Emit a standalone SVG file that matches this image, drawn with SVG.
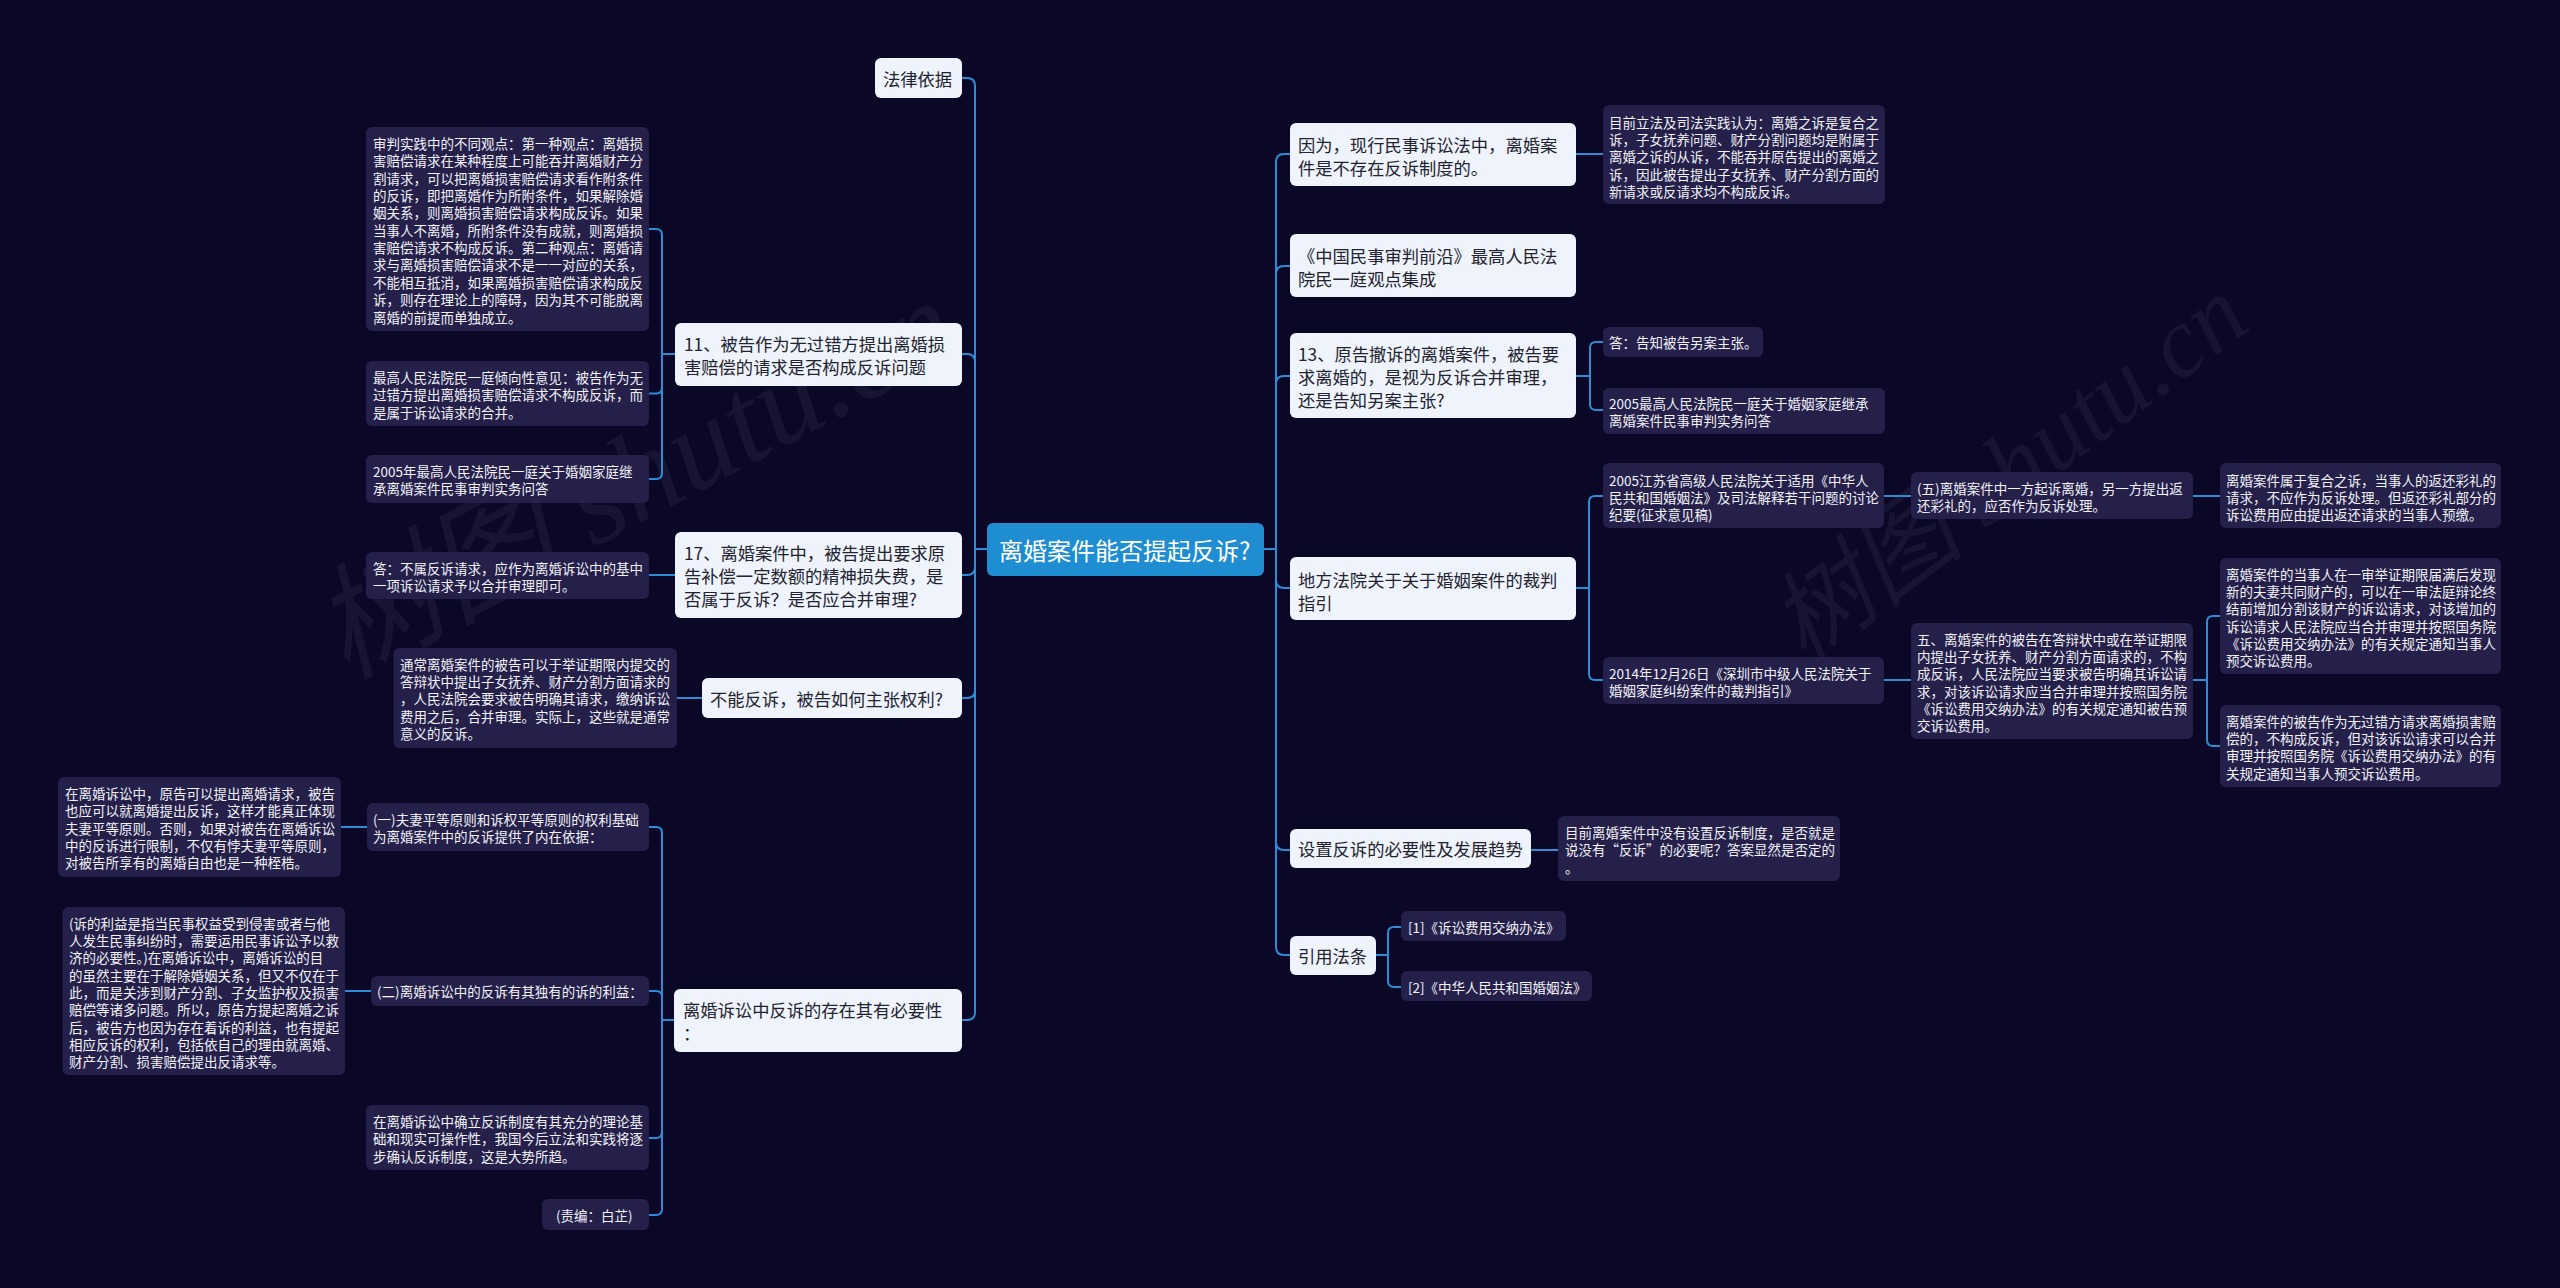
<svg xmlns="http://www.w3.org/2000/svg" width="2560" height="1288" viewBox="0 0 2560 1288">
<style>
.bg{fill:#0b0727}
.n1 rect{fill:#eef3fc}
.n1 text{font-family:"Noto Sans CJK SC","Noto Sans",sans-serif;font-size:17.3px;fill:#23232f;dominant-baseline:central}
.n2 rect{fill:#24204a}
.n2 text{font-family:"Noto Sans CJK SC","Noto Sans",sans-serif;font-size:13.5px;fill:#f2f2f8;dominant-baseline:central}
.root rect{fill:#1f8dd1}
.root text{font-family:"Noto Sans CJK SC","Noto Sans",sans-serif;font-size:24px;fill:#ffffff;dominant-baseline:central}
.links path{fill:none;stroke:#2d8cd6;stroke-width:2}
.wm{font-family:"Liberation Serif","Noto Sans CJK SC",serif;font-style:italic;fill:#ffffff;fill-opacity:0.05}
</style>
<rect class="bg" x="0" y="0" width="2560" height="1288"/>

<g id="watermark">
<text class="wm" font-size="125" transform="translate(345,680) rotate(-28)">树图 shutu.cn</text>
<text class="wm" font-size="100" transform="translate(1805,665) rotate(-37)">树图 shutu.cn</text>
</g>

<g class="links" id="connectors">
<path d="M987 549 H975 V86 Q975 78 967 78 H962"/>
<path d="M987 549 H975 V362 Q975 354 967 354 H962"/>
<path d="M987 549 H975 V567 Q975 575 967 575 H962"/>
<path d="M987 549 H975 V690 Q975 698 967 698 H962"/>
<path d="M987 549 H975 V1012 Q975 1020 967 1020 H962"/>
<path d="M1264 549 H1276 V162 Q1276 154 1284 154 H1290"/>
<path d="M1264 549 H1276 V274 Q1276 266 1284 266 H1290"/>
<path d="M1264 549 H1276 V384 Q1276 376 1284 376 H1290"/>
<path d="M1264 549 H1276 V580 Q1276 588 1284 588 H1290"/>
<path d="M1264 549 H1276 V842 Q1276 850 1284 850 H1290"/>
<path d="M1264 549 H1276 V947 Q1276 955 1284 955 H1290"/>
<path d="M675 354 H662 V235 Q662 229 656 229 H649"/>
<path d="M675 354 H662 V387.5 Q662 393.5 656 393.5 H649"/>
<path d="M675 354 H662 V473 Q662 479 656 479 H649"/>
<path d="M675 575 H649"/>
<path d="M702 698 H677"/>
<path d="M674 1020 H662 V833 Q662 827 656 827 H649"/>
<path d="M674 1020 H662 V997 Q662 991 656 991 H649"/>
<path d="M674 1020 H662 V1132 Q662 1138 656 1138 H649"/>
<path d="M674 1020 H662 V1209 Q662 1215 656 1215 H649"/>
<path d="M367 827 H341"/>
<path d="M371 991 H345"/>
<path d="M1576 154 H1603"/>
<path d="M1576 376 H1590 V348 Q1590 342 1596 342 H1603"/>
<path d="M1576 376 H1590 V404 Q1590 410 1596 410 H1603"/>
<path d="M1576 588 H1589 V502 Q1589 496 1595 496 H1603"/>
<path d="M1576 588 H1589 V674 Q1589 680 1595 680 H1603"/>
<path d="M1531 850 H1558"/>
<path d="M1376 955 H1388 V933 Q1388 927 1394 927 H1401"/>
<path d="M1376 955 H1388 V981 Q1388 987 1394 987 H1401"/>
<path d="M1884 496 H1911"/>
<path d="M1884 680 H1911"/>
<path d="M2193 496 H2220"/>
<path d="M2193 680 H2207 V622 Q2207 616 2213 616 H2220"/>
<path d="M2193 680 H2207 V740 Q2207 746 2213 746 H2220"/>
</g>

<g id="root" class="root">
<rect x="987" y="523" width="277" height="53" rx="6"/>
<text x="999" y="549.5">离婚案件能否提起反诉?</text>
</g>

<!-- LEFT level 1 -->
<g id="n-falv" class="n1"><rect x="875" y="58" width="87" height="40" rx="6"/><text x="883" y="78">法律依据</text></g>
<g id="n-11" class="n1"><rect x="675" y="323" width="287" height="63" rx="6"/><text><tspan x="684" y="343">11、被告作为无过错方提出离婚损</tspan><tspan x="684" y="366">害赔偿的请求是否构成反诉问题</tspan></text></g>
<g id="n-17" class="n1"><rect x="675" y="532" width="287" height="86" rx="6"/><text><tspan x="684" y="552">17、离婚案件中，被告提出要求原</tspan><tspan x="684" y="575">告补偿一定数额的精神损失费，是</tspan><tspan x="684" y="598">否属于反诉？是否应合并审理?</tspan></text></g>
<g id="n-buneng" class="n1"><rect x="702" y="678" width="260" height="40" rx="6"/><text x="710" y="698">不能反诉，被告如何主张权利?</text></g>
<g id="n-biyao" class="n1"><rect x="674" y="989" width="288" height="63" rx="6"/><text><tspan x="683" y="1009">离婚诉讼中反诉的存在其有必要性</tspan><tspan x="683" y="1032">：</tspan></text></g>

<!-- LEFT level 2 -->
<g id="n-shenpan" class="n2"><rect x="366" y="127" width="283" height="204" rx="6"/><text>
<tspan x="373" y="143">审判实践中的不同观点：第一种观点：离婚损</tspan>
<tspan x="373" y="160.35">害赔偿请求在某种程度上可能吞并离婚财产分</tspan>
<tspan x="373" y="177.7">割请求，可以把离婚损害赔偿请求看作附条件</tspan>
<tspan x="373" y="195.05">的反诉，即把离婚作为所附条件，如果解除婚</tspan>
<tspan x="373" y="212.4">姻关系，则离婚损害赔偿请求构成反诉。如果</tspan>
<tspan x="373" y="229.75">当事人不离婚，所附条件没有成就，则离婚损</tspan>
<tspan x="373" y="247.1">害赔偿请求不构成反诉。第二种观点：离婚请</tspan>
<tspan x="373" y="264.45">求与离婚损害赔偿请求不是一一对应的关系，</tspan>
<tspan x="373" y="281.8">不能相互抵消，如果离婚损害赔偿请求构成反</tspan>
<tspan x="373" y="299.15">诉，则存在理论上的障碍，因为其不可能脱离</tspan>
<tspan x="373" y="316.5">离婚的前提而单独成立。</tspan></text></g>
<g id="n-zuigao" class="n2"><rect x="366" y="361" width="283" height="65" rx="6"/><text>
<tspan x="373" y="377">最高人民法院民一庭倾向性意见：被告作为无</tspan>
<tspan x="373" y="394.35">过错方提出离婚损害赔偿请求不构成反诉，而</tspan>
<tspan x="373" y="411.7">是属于诉讼请求的合并。</tspan></text></g>
<g id="n-2005a" class="n2"><rect x="366" y="455" width="283" height="48" rx="6"/><text>
<tspan x="373" y="471">2005年最高人民法院民一庭关于婚姻家庭继</tspan>
<tspan x="373" y="488.35">承离婚案件民事审判实务问答</tspan></text></g>
<g id="n-da1" class="n2"><rect x="366" y="552" width="283" height="47" rx="6"/><text>
<tspan x="373" y="567.5">答：不属反诉请求，应作为离婚诉讼中的基中</tspan>
<tspan x="373" y="584.85">一项诉讼请求予以合并审理即可。</tspan></text></g>
<g id="n-tongchang" class="n2"><rect x="393.5" y="648" width="283.5" height="100" rx="6"/><text>
<tspan x="400" y="663.5">通常离婚案件的被告可以于举证期限内提交的</tspan>
<tspan x="400" y="680.85">答辩状中提出子女抚养、财产分割方面请求的</tspan>
<tspan x="400" y="698.2">，人民法院会要求被告明确其请求，缴纳诉讼</tspan>
<tspan x="400" y="715.55">费用之后，合并审理。实际上，这些就是通常</tspan>
<tspan x="400" y="732.9">意义的反诉。</tspan></text></g>
<g id="n-yi" class="n2"><rect x="367" y="803" width="282" height="48" rx="6"/><text>
<tspan x="373" y="819">(一)夫妻平等原则和诉权平等原则的权利基础</tspan>
<tspan x="373" y="836.35">为离婚案件中的反诉提供了内在依据：</tspan></text></g>
<g id="n-er" class="n2"><rect x="371" y="976" width="278" height="30" rx="6"/><text x="377" y="991">(二)离婚诉讼中的反诉有其独有的诉的利益：</text></g>
<g id="n-queli" class="n2"><rect x="366" y="1105" width="283" height="65" rx="6"/><text>
<tspan x="373" y="1121">在离婚诉讼中确立反诉制度有其充分的理论基</tspan>
<tspan x="373" y="1138.35">础和现实可操作性，我国今后立法和实践将逐</tspan>
<tspan x="373" y="1155.7">步确认反诉制度，这是大势所趋。</tspan></text></g>
<g id="n-zebian" class="n2"><rect x="542" y="1199" width="107" height="31" rx="6"/><text x="556" y="1215">(责编：白芷)</text></g>

<!-- LEFT level 3 -->
<g id="n-yuangao" class="n2"><rect x="58" y="777" width="283" height="100" rx="6"/><text>
<tspan x="65" y="793">在离婚诉讼中，原告可以提出离婚请求，被告</tspan>
<tspan x="65" y="810.35">也应可以就离婚提出反诉，这样才能真正体现</tspan>
<tspan x="65" y="827.7">夫妻平等原则。否则，如果对被告在离婚诉讼</tspan>
<tspan x="65" y="845.05">中的反诉进行限制，不仅有悖夫妻平等原则，</tspan>
<tspan x="65" y="862.4">对被告所享有的离婚自由也是一种桎梏。</tspan></text></g>
<g id="n-liyi" class="n2"><rect x="62.5" y="907" width="282.5" height="168" rx="6"/><text>
<tspan x="69" y="922.5">(诉的利益是指当民事权益受到侵害或者与他</tspan>
<tspan x="69" y="939.85">人发生民事纠纷时，需要运用民事诉讼予以救</tspan>
<tspan x="69" y="957.2">济的必要性。)在离婚诉讼中，离婚诉讼的目</tspan>
<tspan x="69" y="974.55">的虽然主要在于解除婚姻关系，但又不仅在于</tspan>
<tspan x="69" y="991.9">此，而是关涉到财产分割、子女监护权及损害</tspan>
<tspan x="69" y="1009.25">赔偿等诸多问题。所以，原告方提起离婚之诉</tspan>
<tspan x="69" y="1026.6">后，被告方也因为存在着诉的利益，也有提起</tspan>
<tspan x="69" y="1043.95">相应反诉的权利，包括依自己的理由就离婚、</tspan>
<tspan x="69" y="1061.3">财产分割、损害赔偿提出反请求等。</tspan></text></g>

<!-- RIGHT level 1 -->
<g id="n-yinwei" class="n1"><rect x="1290" y="123" width="286" height="63" rx="6"/><text><tspan x="1298" y="143.5">因为，现行民事诉讼法中，离婚案</tspan><tspan x="1298" y="166.5">件是不存在反诉制度的。</tspan></text></g>
<g id="n-qianyan" class="n1"><rect x="1290" y="234" width="286" height="63" rx="6"/><text><tspan x="1298" y="254.5">《中国民事审判前沿》最高人民法</tspan><tspan x="1298" y="277.5">院民一庭观点集成</tspan></text></g>
<g id="n-13" class="n1"><rect x="1290" y="333" width="286" height="85" rx="6"/><text><tspan x="1298" y="353">13、原告撤诉的离婚案件，被告要</tspan><tspan x="1298" y="376">求离婚的，是视为反诉合并审理，</tspan><tspan x="1298" y="399">还是告知另案主张?</tspan></text></g>
<g id="n-difang" class="n1"><rect x="1290" y="557" width="286" height="63" rx="6"/><text><tspan x="1298" y="578.5">地方法院关于关于婚姻案件的裁判</tspan><tspan x="1298" y="601.5">指引</tspan></text></g>
<g id="n-shezhi" class="n1"><rect x="1290" y="829" width="241" height="39" rx="6"/><text x="1298" y="848.5">设置反诉的必要性及发展趋势</text></g>
<g id="n-yinyong" class="n1"><rect x="1290" y="936" width="86" height="39" rx="6"/><text x="1298" y="955.5">引用法条</text></g>

<!-- RIGHT level 2 -->
<g id="n-muqian" class="n2"><rect x="1603" y="105" width="282" height="99" rx="6"/><text>
<tspan x="1609" y="121.5">目前立法及司法实践认为：离婚之诉是复合之</tspan>
<tspan x="1609" y="138.85">诉，子女抚养问题、财产分割问题均是附属于</tspan>
<tspan x="1609" y="156.2">离婚之诉的从诉，不能吞并原告提出的离婚之</tspan>
<tspan x="1609" y="173.55">诉，因此被告提出子女抚养、财产分割方面的</tspan>
<tspan x="1609" y="190.9">新请求或反请求均不构成反诉。</tspan></text></g>
<g id="n-da2" class="n2"><rect x="1603" y="327" width="160" height="30" rx="6"/><text x="1609" y="342">答：告知被告另案主张。</text></g>
<g id="n-2005b" class="n2"><rect x="1603" y="388" width="282" height="46" rx="6"/><text>
<tspan x="1609" y="403">2005最高人民法院民一庭关于婚姻家庭继承</tspan>
<tspan x="1609" y="420.35">离婚案件民事审判实务问答</tspan></text></g>
<g id="n-jiangsu" class="n2"><rect x="1603" y="463" width="281" height="65" rx="6"/><text>
<tspan x="1609" y="479.5">2005江苏省高级人民法院关于适用《中华人</tspan>
<tspan x="1609" y="496.85">民共和国婚姻法》及司法解释若干问题的讨论</tspan>
<tspan x="1609" y="514.2">纪要(征求意见稿)</tspan></text></g>
<g id="n-shenzhen" class="n2"><rect x="1603" y="657" width="281" height="47" rx="6"/><text>
<tspan x="1609" y="673">2014年12月26日《深圳市中级人民法院关于</tspan>
<tspan x="1609" y="690.35">婚姻家庭纠纷案件的裁判指引》</tspan></text></g>
<g id="n-muqian2" class="n2"><rect x="1558" y="816" width="282" height="65" rx="6"/><text>
<tspan x="1565" y="832">目前离婚案件中没有设置反诉制度，是否就是</tspan>
<tspan x="1565" y="849.35">说没有“反诉”的必要呢？答案显然是否定的</tspan>
<tspan x="1565" y="866.7">。</tspan></text></g>
<g id="n-ref1" class="n2"><rect x="1401" y="911" width="165" height="30" rx="6"/><text x="1408" y="926.5">[1]《诉讼费用交纳办法》</text></g>
<g id="n-ref2" class="n2"><rect x="1401" y="971" width="191" height="30" rx="6"/><text x="1408" y="986.5">[2]《中华人民共和国婚姻法》</text></g>

<!-- RIGHT level 3 -->
<g id="n-wu1" class="n2"><rect x="1911" y="472" width="282" height="47" rx="6"/><text>
<tspan x="1917" y="488">(五)离婚案件中一方起诉离婚，另一方提出返</tspan>
<tspan x="1917" y="505.35">还彩礼的，应否作为反诉处理。</tspan></text></g>
<g id="n-wu2" class="n2"><rect x="1911" y="623" width="282" height="116" rx="6"/><text>
<tspan x="1917" y="638.5">五、离婚案件的被告在答辩状中或在举证期限</tspan>
<tspan x="1917" y="655.85">内提出子女抚养、财产分割方面请求的，不构</tspan>
<tspan x="1917" y="673.2">成反诉，人民法院应当要求被告明确其诉讼请</tspan>
<tspan x="1917" y="690.55">求，对该诉讼请求应当合并审理并按照国务院</tspan>
<tspan x="1917" y="707.9">《诉讼费用交纳办法》的有关规定通知被告预</tspan>
<tspan x="1917" y="725.25">交诉讼费用。</tspan></text></g>

<!-- RIGHT level 4 -->
<g id="n-fuhe" class="n2"><rect x="2220" y="463" width="281" height="65" rx="6"/><text>
<tspan x="2226" y="479.5">离婚案件属于复合之诉，当事人的返还彩礼的</tspan>
<tspan x="2226" y="496.85">请求，不应作为反诉处理。但返还彩礼部分的</tspan>
<tspan x="2226" y="514.2">诉讼费用应由提出返还请求的当事人预缴。</tspan></text></g>
<g id="n-caichan" class="n2"><rect x="2220" y="558" width="281" height="116" rx="6"/><text>
<tspan x="2226" y="573.5">离婚案件的当事人在一审举证期限届满后发现</tspan>
<tspan x="2226" y="590.85">新的夫妻共同财产的，可以在一审法庭辩论终</tspan>
<tspan x="2226" y="608.2">结前增加分割该财产的诉讼请求，对该增加的</tspan>
<tspan x="2226" y="625.55">诉讼请求人民法院应当合并审理并按照国务院</tspan>
<tspan x="2226" y="642.9">《诉讼费用交纳办法》的有关规定通知当事人</tspan>
<tspan x="2226" y="660.25">预交诉讼费用。</tspan></text></g>
<g id="n-wuguocuo" class="n2"><rect x="2220" y="705" width="281" height="82" rx="6"/><text>
<tspan x="2226" y="720.5">离婚案件的被告作为无过错方请求离婚损害赔</tspan>
<tspan x="2226" y="737.85">偿的，不构成反诉，但对该诉讼请求可以合并</tspan>
<tspan x="2226" y="755.2">审理并按照国务院《诉讼费用交纳办法》的有</tspan>
<tspan x="2226" y="772.55">关规定通知当事人预交诉讼费用。</tspan></text></g>
</svg>
